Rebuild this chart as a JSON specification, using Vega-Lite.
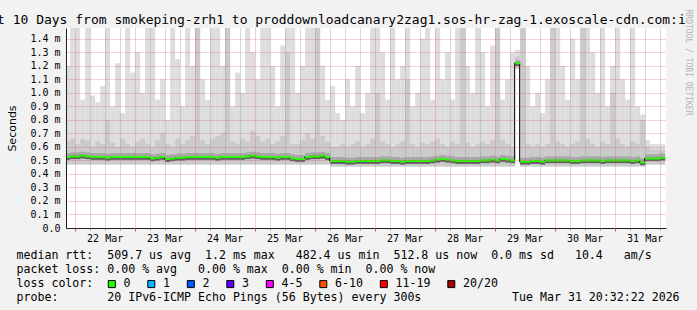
{
"$schema":"https://vega.github.io/schema/vega-lite/v6.json",
"width":600,"height":200,
"autosize":{"type":"none"},
"padding":{"left":66,"top":28,"right":31,"bottom":82},
"background":"#f2f2f2",
"config":{"view":{"fill":"#ffffff","stroke":null}},
"title":{"text":"t 10 Days from smokeping-zrh1 to proddownloadcanary2zag1.sos-hr-zag-1.exoscale-cdn.com:i","anchor":"start","frame":"group","dx":-69,"dy":33,"offset":5,"baseline":"alphabetic","font":"DejaVu Sans Mono","fontSize":13,"fontWeight":"normal","color":"#000000"},
"data":{"values":[
{"t":"2026-03-21T20:00Z","lo":0.47,"p1":0.505,"md":0.525,"p3":0.555,"q":0.64,"hi":1.2},
{"t":"2026-03-21T22:00Z","lo":0.47,"p1":0.51,"md":0.53,"p3":0.56,"q":0.66,"hi":1.49},
{"t":"2026-03-22T00:00Z","lo":0.47,"p1":0.51,"md":0.53,"p3":0.56,"q":0.62,"hi":1.49},
{"t":"2026-03-22T02:00Z","lo":0.47,"p1":0.515,"md":0.535,"p3":0.565,"q":0.66,"hi":0.95},
{"t":"2026-03-22T04:00Z","lo":0.47,"p1":0.51,"md":0.53,"p3":0.56,"q":0.65,"hi":1.49},
{"t":"2026-03-22T06:00Z","lo":0.47,"p1":0.505,"md":0.525,"p3":0.555,"q":0.6,"hi":0.98},
{"t":"2026-03-22T08:00Z","lo":0.47,"p1":0.505,"md":0.525,"p3":0.555,"q":0.64,"hi":0.93},
{"t":"2026-03-22T10:00Z","lo":0.47,"p1":0.505,"md":0.525,"p3":0.555,"q":0.62,"hi":1.05},
{"t":"2026-03-22T12:00Z","lo":0.47,"p1":0.5,"md":0.52,"p3":0.55,"q":0.8,"hi":1.49},
{"t":"2026-03-22T14:00Z","lo":0.47,"p1":0.505,"md":0.525,"p3":0.555,"q":0.63,"hi":0.9},
{"t":"2026-03-22T16:00Z","lo":0.47,"p1":0.505,"md":0.525,"p3":0.555,"q":0.6,"hi":1.22},
{"t":"2026-03-22T18:00Z","lo":0.47,"p1":0.505,"md":0.525,"p3":0.555,"q":0.66,"hi":0.85},
{"t":"2026-03-22T20:00Z","lo":0.47,"p1":0.505,"md":0.525,"p3":0.555,"q":0.62,"hi":1.49},
{"t":"2026-03-22T22:00Z","lo":0.47,"p1":0.505,"md":0.525,"p3":0.555,"q":0.6,"hi":1.15},
{"t":"2026-03-23T00:00Z","lo":0.47,"p1":0.505,"md":0.525,"p3":0.555,"q":0.64,"hi":1.3},
{"t":"2026-03-23T02:00Z","lo":0.47,"p1":0.505,"md":0.525,"p3":0.555,"q":0.66,"hi":1.0},
{"t":"2026-03-23T04:00Z","lo":0.47,"p1":0.505,"md":0.525,"p3":0.555,"q":0.62,"hi":1.49},
{"t":"2026-03-23T06:00Z","lo":0.47,"p1":0.495,"md":0.515,"p3":0.545,"q":0.6,"hi":1.49},
{"t":"2026-03-23T08:00Z","lo":0.47,"p1":0.5,"md":0.52,"p3":0.55,"q":0.65,"hi":0.95},
{"t":"2026-03-23T10:00Z","lo":0.47,"p1":0.505,"md":0.525,"p3":0.555,"q":0.7,"hi":1.1},
{"t":"2026-03-23T12:00Z","lo":0.47,"p1":0.49,"md":0.51,"p3":0.54,"q":0.62,"hi":0.8},
{"t":"2026-03-23T14:00Z","lo":0.47,"p1":0.495,"md":0.515,"p3":0.545,"q":0.6,"hi":1.49},
{"t":"2026-03-23T16:00Z","lo":0.47,"p1":0.5,"md":0.52,"p3":0.55,"q":0.66,"hi":1.25},
{"t":"2026-03-23T18:00Z","lo":0.47,"p1":0.5,"md":0.52,"p3":0.55,"q":0.62,"hi":0.9},
{"t":"2026-03-23T20:00Z","lo":0.47,"p1":0.505,"md":0.525,"p3":0.555,"q":0.65,"hi":1.49},
{"t":"2026-03-23T22:00Z","lo":0.47,"p1":0.505,"md":0.525,"p3":0.555,"q":0.68,"hi":1.2},
{"t":"2026-03-24T00:00Z","lo":0.47,"p1":0.505,"md":0.525,"p3":0.555,"q":1.49,"hi":1.49},
{"t":"2026-03-24T02:00Z","lo":0.47,"p1":0.505,"md":0.525,"p3":0.555,"q":0.65,"hi":1.1},
{"t":"2026-03-24T04:00Z","lo":0.47,"p1":0.505,"md":0.525,"p3":0.555,"q":0.62,"hi":0.95},
{"t":"2026-03-24T06:00Z","lo":0.47,"p1":0.505,"md":0.525,"p3":0.555,"q":0.66,"hi":1.49},
{"t":"2026-03-24T08:00Z","lo":0.47,"p1":0.5,"md":0.52,"p3":0.55,"q":0.68,"hi":1.49},
{"t":"2026-03-24T10:00Z","lo":0.47,"p1":0.505,"md":0.525,"p3":0.555,"q":0.7,"hi":1.2},
{"t":"2026-03-24T12:00Z","lo":0.47,"p1":0.505,"md":0.525,"p3":0.555,"q":1.49,"hi":1.49},
{"t":"2026-03-24T14:00Z","lo":0.47,"p1":0.505,"md":0.525,"p3":0.555,"q":0.64,"hi":0.9},
{"t":"2026-03-24T16:00Z","lo":0.47,"p1":0.505,"md":0.525,"p3":0.555,"q":0.62,"hi":1.15},
{"t":"2026-03-24T18:00Z","lo":0.47,"p1":0.505,"md":0.525,"p3":0.555,"q":0.66,"hi":1.0},
{"t":"2026-03-24T20:00Z","lo":0.47,"p1":0.51,"md":0.53,"p3":0.56,"q":0.64,"hi":1.49},
{"t":"2026-03-24T22:00Z","lo":0.47,"p1":0.515,"md":0.535,"p3":0.565,"q":0.72,"hi":1.3},
{"t":"2026-03-25T00:00Z","lo":0.47,"p1":0.51,"md":0.53,"p3":0.56,"q":0.68,"hi":1.1},
{"t":"2026-03-25T02:00Z","lo":0.47,"p1":0.505,"md":0.525,"p3":0.555,"q":0.64,"hi":1.49},
{"t":"2026-03-25T04:00Z","lo":0.47,"p1":0.505,"md":0.525,"p3":0.555,"q":0.66,"hi":1.49},
{"t":"2026-03-25T06:00Z","lo":0.47,"p1":0.505,"md":0.525,"p3":0.555,"q":0.62,"hi":1.2},
{"t":"2026-03-25T08:00Z","lo":0.47,"p1":0.5,"md":0.52,"p3":0.55,"q":0.64,"hi":0.9},
{"t":"2026-03-25T10:00Z","lo":0.47,"p1":0.505,"md":0.525,"p3":0.555,"q":0.68,"hi":1.35},
{"t":"2026-03-25T12:00Z","lo":0.47,"p1":0.505,"md":0.525,"p3":0.555,"q":1.3,"hi":1.49},
{"t":"2026-03-25T14:00Z","lo":0.47,"p1":0.495,"md":0.515,"p3":0.545,"q":0.62,"hi":1.49},
{"t":"2026-03-25T16:00Z","lo":0.47,"p1":0.49,"md":0.51,"p3":0.54,"q":0.62,"hi":1.0},
{"t":"2026-03-25T18:00Z","lo":0.47,"p1":0.49,"md":0.51,"p3":0.54,"q":0.65,"hi":1.2},
{"t":"2026-03-25T20:00Z","lo":0.47,"p1":0.505,"md":0.525,"p3":0.555,"q":0.7,"hi":1.49},
{"t":"2026-03-25T22:00Z","lo":0.47,"p1":0.51,"md":0.53,"p3":0.56,"q":0.66,"hi":1.49},
{"t":"2026-03-26T00:00Z","lo":0.47,"p1":0.51,"md":0.53,"p3":0.56,"q":1.49,"hi":1.49},
{"t":"2026-03-26T02:00Z","lo":0.47,"p1":0.515,"md":0.535,"p3":0.565,"q":0.68,"hi":1.2},
{"t":"2026-03-26T04:00Z","lo":0.47,"p1":0.505,"md":0.525,"p3":0.555,"q":0.64,"hi":0.95},
{"t":"2026-03-26T06:00Z","lo":0.455,"p1":0.475,"md":0.495,"p3":0.525,"q":0.6,"hi":1.05},
{"t":"2026-03-26T08:00Z","lo":0.455,"p1":0.475,"md":0.495,"p3":0.525,"q":0.6,"hi":0.85},
{"t":"2026-03-26T10:00Z","lo":0.455,"p1":0.475,"md":0.495,"p3":0.525,"q":0.62,"hi":0.8},
{"t":"2026-03-26T12:00Z","lo":0.455,"p1":0.47,"md":0.49,"p3":0.52,"q":0.6,"hi":1.1},
{"t":"2026-03-26T14:00Z","lo":0.455,"p1":0.47,"md":0.49,"p3":0.52,"q":0.62,"hi":0.9},
{"t":"2026-03-26T16:00Z","lo":0.455,"p1":0.475,"md":0.495,"p3":0.525,"q":0.64,"hi":1.2},
{"t":"2026-03-26T18:00Z","lo":0.455,"p1":0.475,"md":0.495,"p3":0.525,"q":0.6,"hi":0.85},
{"t":"2026-03-26T20:00Z","lo":0.455,"p1":0.475,"md":0.495,"p3":0.525,"q":0.62,"hi":1.0},
{"t":"2026-03-26T22:00Z","lo":0.455,"p1":0.475,"md":0.495,"p3":0.525,"q":0.66,"hi":1.49},
{"t":"2026-03-27T00:00Z","lo":0.455,"p1":0.475,"md":0.495,"p3":0.525,"q":1.0,"hi":1.49},
{"t":"2026-03-27T02:00Z","lo":0.455,"p1":0.48,"md":0.5,"p3":0.53,"q":0.64,"hi":1.3},
{"t":"2026-03-27T04:00Z","lo":0.455,"p1":0.48,"md":0.5,"p3":0.53,"q":0.62,"hi":0.95},
{"t":"2026-03-27T06:00Z","lo":0.455,"p1":0.475,"md":0.495,"p3":0.525,"q":0.6,"hi":1.49},
{"t":"2026-03-27T08:00Z","lo":0.455,"p1":0.475,"md":0.495,"p3":0.525,"q":0.62,"hi":1.1},
{"t":"2026-03-27T10:00Z","lo":0.455,"p1":0.47,"md":0.49,"p3":0.52,"q":0.64,"hi":1.2},
{"t":"2026-03-27T12:00Z","lo":0.455,"p1":0.475,"md":0.495,"p3":0.525,"q":1.1,"hi":1.49},
{"t":"2026-03-27T14:00Z","lo":0.455,"p1":0.475,"md":0.495,"p3":0.525,"q":0.62,"hi":0.9},
{"t":"2026-03-27T16:00Z","lo":0.455,"p1":0.475,"md":0.495,"p3":0.525,"q":0.6,"hi":1.0},
{"t":"2026-03-27T18:00Z","lo":0.455,"p1":0.475,"md":0.495,"p3":0.525,"q":0.63,"hi":1.4},
{"t":"2026-03-27T20:00Z","lo":0.455,"p1":0.475,"md":0.495,"p3":0.525,"q":0.62,"hi":1.49},
{"t":"2026-03-27T22:00Z","lo":0.455,"p1":0.48,"md":0.5,"p3":0.53,"q":0.64,"hi":0.95},
{"t":"2026-03-28T00:00Z","lo":0.455,"p1":0.485,"md":0.505,"p3":0.535,"q":0.66,"hi":1.49},
{"t":"2026-03-28T02:00Z","lo":0.455,"p1":0.49,"md":0.51,"p3":0.54,"q":0.62,"hi":1.1},
{"t":"2026-03-28T04:00Z","lo":0.455,"p1":0.485,"md":0.505,"p3":0.535,"q":0.6,"hi":1.3},
{"t":"2026-03-28T06:00Z","lo":0.455,"p1":0.48,"md":0.5,"p3":0.53,"q":0.64,"hi":0.95},
{"t":"2026-03-28T08:00Z","lo":0.455,"p1":0.475,"md":0.495,"p3":0.525,"q":0.62,"hi":1.49},
{"t":"2026-03-28T10:00Z","lo":0.455,"p1":0.475,"md":0.495,"p3":0.525,"q":1.49,"hi":1.49},
{"t":"2026-03-28T12:00Z","lo":0.455,"p1":0.475,"md":0.495,"p3":0.525,"q":0.63,"hi":1.2},
{"t":"2026-03-28T14:00Z","lo":0.455,"p1":0.475,"md":0.495,"p3":0.525,"q":0.6,"hi":1.0},
{"t":"2026-03-28T16:00Z","lo":0.455,"p1":0.475,"md":0.495,"p3":0.525,"q":0.62,"hi":1.49},
{"t":"2026-03-28T18:00Z","lo":0.455,"p1":0.48,"md":0.5,"p3":0.53,"q":0.64,"hi":1.3},
{"t":"2026-03-28T20:00Z","lo":0.455,"p1":0.48,"md":0.5,"p3":0.53,"q":0.62,"hi":0.9},
{"t":"2026-03-28T22:00Z","lo":0.455,"p1":0.485,"md":0.505,"p3":0.535,"q":0.65,"hi":1.35},
{"t":"2026-03-29T00:00Z","lo":0.455,"p1":0.48,"md":0.5,"p3":0.53,"q":1.49,"hi":1.49},
{"t":"2026-03-29T02:00Z","lo":0.455,"p1":0.49,"md":0.51,"p3":0.54,"q":0.65,"hi":0.95},
{"t":"2026-03-29T04:00Z","lo":0.455,"p1":0.485,"md":0.505,"p3":0.535,"q":0.62,"hi":1.1},
{"t":"2026-03-29T06:00Z","lo":0.455,"p1":0.48,"md":0.5,"p3":0.53,"q":0.6,"hi":1.3},
{"t":"2026-03-29T08:00Z","lo":1.18,"p1":1.2,"md":1.22,"p3":1.24,"q":1.27,"hi":1.32},
{"t":"2026-03-29T10:00Z","lo":0.455,"p1":0.47,"md":0.49,"p3":0.52,"q":1.49,"hi":1.49},
{"t":"2026-03-29T12:00Z","lo":0.455,"p1":0.47,"md":0.49,"p3":0.52,"q":0.62,"hi":1.2},
{"t":"2026-03-29T14:00Z","lo":0.455,"p1":0.475,"md":0.495,"p3":0.525,"q":0.6,"hi":0.9},
{"t":"2026-03-29T16:00Z","lo":0.455,"p1":0.475,"md":0.495,"p3":0.525,"q":0.62,"hi":1.0},
{"t":"2026-03-29T18:00Z","lo":0.455,"p1":0.47,"md":0.49,"p3":0.52,"q":0.6,"hi":0.85},
{"t":"2026-03-29T20:00Z","lo":0.455,"p1":0.48,"md":0.5,"p3":0.53,"q":0.62,"hi":1.1},
{"t":"2026-03-29T22:00Z","lo":0.455,"p1":0.48,"md":0.5,"p3":0.53,"q":1.49,"hi":1.49},
{"t":"2026-03-30T00:00Z","lo":0.455,"p1":0.48,"md":0.5,"p3":0.53,"q":0.64,"hi":1.49},
{"t":"2026-03-30T02:00Z","lo":0.455,"p1":0.48,"md":0.5,"p3":0.53,"q":0.62,"hi":1.2},
{"t":"2026-03-30T04:00Z","lo":0.455,"p1":0.48,"md":0.5,"p3":0.53,"q":0.6,"hi":0.95},
{"t":"2026-03-30T06:00Z","lo":0.455,"p1":0.475,"md":0.495,"p3":0.525,"q":0.62,"hi":1.4},
{"t":"2026-03-30T08:00Z","lo":0.455,"p1":0.475,"md":0.495,"p3":0.525,"q":0.64,"hi":1.1},
{"t":"2026-03-30T10:00Z","lo":0.455,"p1":0.48,"md":0.5,"p3":0.53,"q":1.49,"hi":1.49},
{"t":"2026-03-30T12:00Z","lo":0.455,"p1":0.48,"md":0.5,"p3":0.53,"q":0.66,"hi":1.49},
{"t":"2026-03-30T14:00Z","lo":0.455,"p1":0.48,"md":0.5,"p3":0.53,"q":0.62,"hi":1.3},
{"t":"2026-03-30T16:00Z","lo":0.455,"p1":0.48,"md":0.5,"p3":0.53,"q":0.6,"hi":1.0},
{"t":"2026-03-30T18:00Z","lo":0.455,"p1":0.475,"md":0.495,"p3":0.525,"q":0.64,"hi":1.49},
{"t":"2026-03-30T20:00Z","lo":0.455,"p1":0.48,"md":0.5,"p3":0.53,"q":0.62,"hi":0.9},
{"t":"2026-03-30T22:00Z","lo":0.455,"p1":0.48,"md":0.5,"p3":0.53,"q":1.0,"hi":1.2},
{"t":"2026-03-31T00:00Z","lo":0.455,"p1":0.48,"md":0.5,"p3":0.53,"q":0.66,"hi":1.49},
{"t":"2026-03-31T02:00Z","lo":0.455,"p1":0.48,"md":0.5,"p3":0.53,"q":0.62,"hi":1.1},
{"t":"2026-03-31T04:00Z","lo":0.455,"p1":0.48,"md":0.5,"p3":0.53,"q":0.6,"hi":0.95},
{"t":"2026-03-31T06:00Z","lo":0.455,"p1":0.475,"md":0.495,"p3":0.525,"q":0.64,"hi":1.49},
{"t":"2026-03-31T08:00Z","lo":0.455,"p1":0.48,"md":0.5,"p3":0.53,"q":0.62,"hi":0.9},
{"t":"2026-03-31T10:00Z","lo":0.455,"p1":0.465,"md":0.485,"p3":0.515,"q":0.8,"hi":0.84},
{"t":"2026-03-31T12:00Z","lo":0.47,"p1":0.495,"md":0.515,"p3":0.545,"q":0.6,"hi":0.65},
{"t":"2026-03-31T14:00Z","lo":0.47,"p1":0.495,"md":0.515,"p3":0.545,"q":0.58,"hi":0.62},
{"t":"2026-03-31T16:00Z","lo":0.47,"p1":0.495,"md":0.515,"p3":0.545,"q":0.58,"hi":0.62},
{"t":"2026-03-31T18:00Z","lo":0.47,"p1":0.5,"md":0.52,"p3":0.55,"q":0.58,"hi":0.62}
]},
"resolve":{"axis":{"x":"independent","y":"independent"}},
"layer":[
{"mark":{"type":"bar","color":"#dddddd","clip":true,"binSpacing":0},
 "encoding":{
  "x":{"field":"t","type":"temporal","timeUnit":{"unit":"utcyearmonthdatehours","step":2},
   "scale":{"type":"utc","domain":[{"year":2026,"month":"mar","date":21,"hours":20,"minutes":32,"seconds":22,"utc":true},{"year":2026,"month":"mar","date":31,"hours":20,"minutes":32,"seconds":22,"utc":true}]},
   "axis":{"orient":"bottom",
    "values":[{"year":2026,"month":"mar","date":22,"hours":12,"utc":true},{"year":2026,"month":"mar","date":23,"hours":12,"utc":true},{"year":2026,"month":"mar","date":24,"hours":12,"utc":true},{"year":2026,"month":"mar","date":25,"hours":12,"utc":true},{"year":2026,"month":"mar","date":26,"hours":12,"utc":true},{"year":2026,"month":"mar","date":27,"hours":12,"utc":true},{"year":2026,"month":"mar","date":28,"hours":12,"utc":true},{"year":2026,"month":"mar","date":29,"hours":12,"utc":true},{"year":2026,"month":"mar","date":30,"hours":12,"utc":true},{"year":2026,"month":"mar","date":31,"hours":12,"utc":true}],
    "labelExpr":"utcFormat(datum.value, '%d %b')",
    "labelFont":"DejaVu Sans Mono","labelFontSize":10,"labelColor":"#000000","labelPadding":5,"labelFlush":false,"labelOverlap":false,"labelBound":false,
    "ticks":false,"grid":false,"domain":true,"domainColor":"#212121","domainWidth":1,"zindex":1,
    "title":["median rtt:\u00a0\u00a0509.7 us avg\u00a0\u00a01.2 ms max\u00a0\u00a0\u00a0482.4 us min\u00a0\u00a0512.8 us now\u00a0\u00a00.0 ms sd\u00a0\u00a0\u00a010.4\u00a0\u00a0\u00a0am/s","packet loss: 0.00 % avg\u00a0\u00a0\u00a00.00 % max\u00a0\u00a00.00 % min\u00a0\u00a00.00 % now","loss color:","probe:\u00a0\u00a0\u00a0\u00a0\u00a0\u00a0\u00a020 IPv6-ICMP Echo Pings (56 Bytes) every 300s\u00a0\u00a0\u00a0\u00a0\u00a0\u00a0\u00a0\u00a0\u00a0\u00a0\u00a0\u00a0\u00a0Tue Mar 31 20:32:22 2026"],
    "titleX":-50,"titleY":30,"titleAlign":"left","titleAnchor":"start","titleBaseline":"alphabetic","titleFont":"DejaVu Sans Mono","titleFontSize":11.6,"titleFontWeight":"normal","titleColor":"#000000","titleLineHeight":14,"titleLimit":2000}},
  "y":{"field":"lo","type":"quantitative","scale":{"domain":[0,1.48],"nice":false,"zero":false},
   "axis":{"orient":"left","values":[0,0.1,0.2,0.3,0.4,0.5,0.6,0.7,0.8,0.9,1.0,1.1,1.2,1.3,1.4],
    "labelExpr":"datum.value == 0 ? '0.0' : format(datum.value, '.1f') + ' m'",
    "labelFont":"DejaVu Sans Mono","labelFontSize":10,"labelColor":"#000000","labelPadding":6,
    "ticks":false,"grid":true,"gridColor":"#de4f4f","gridOpacity":0.5,"gridDash":[1,1],"domain":true,"domainColor":"#212121","zindex":1,
    "title":"Seconds","titleFont":"DejaVu Sans","titleFontSize":11,"titleFontWeight":"normal","titleColor":"#000000","titleAngle":270,"titleX":-54,"titleY":100,"titleAlign":"center","titleBaseline":"middle"}},
  "y2":{"field":"hi"}}},
{"mark":{"type":"bar","color":"#cacaca","clip":true,"binSpacing":0},
 "encoding":{
  "x":{"field":"t","type":"temporal","timeUnit":{"unit":"utcyearmonthdatehours","step":2},
   "scale":{"type":"utc","domain":[{"year":2026,"month":"mar","date":21,"hours":20,"minutes":32,"seconds":22,"utc":true},{"year":2026,"month":"mar","date":31,"hours":20,"minutes":32,"seconds":22,"utc":true}]},
   "axis":{"orient":"bottom",
    "values":[{"year":2026,"month":"mar","date":22,"utc":true},{"year":2026,"month":"mar","date":23,"utc":true},{"year":2026,"month":"mar","date":24,"utc":true},{"year":2026,"month":"mar","date":25,"utc":true},{"year":2026,"month":"mar","date":26,"utc":true},{"year":2026,"month":"mar","date":27,"utc":true},{"year":2026,"month":"mar","date":28,"utc":true},{"year":2026,"month":"mar","date":29,"utc":true},{"year":2026,"month":"mar","date":30,"utc":true},{"year":2026,"month":"mar","date":31,"utc":true}],
    "labels":false,"domain":false,"ticks":true,"tickColor":"#de4f4f","tickSize":3,"grid":true,"gridColor":"#de4f4f","gridOpacity":0.55,"gridDash":[1,1],"zindex":1,"title":null}},
  "y":{"field":"lo","type":"quantitative","scale":{"domain":[0,1.48],"nice":false,"zero":false},"axis":null},
  "y2":{"field":"q"}}},
{"mark":{"type":"bar","color":"#a6a6a6","clip":true,"binSpacing":0},
 "encoding":{
  "x":{"field":"t","type":"temporal","timeUnit":{"unit":"utcyearmonthdatehours","step":2},
   "scale":{"type":"utc","domain":[{"year":2026,"month":"mar","date":21,"hours":20,"minutes":32,"seconds":22,"utc":true},{"year":2026,"month":"mar","date":31,"hours":20,"minutes":32,"seconds":22,"utc":true}]},
   "axis":{"orient":"bottom",
    "values":[{"year":2026,"month":"mar","date":22,"hours":6,"utc":true},{"year":2026,"month":"mar","date":22,"hours":12,"utc":true},{"year":2026,"month":"mar","date":22,"hours":18,"utc":true},
{"year":2026,"month":"mar","date":23,"hours":6,"utc":true},{"year":2026,"month":"mar","date":23,"hours":12,"utc":true},{"year":2026,"month":"mar","date":23,"hours":18,"utc":true},
{"year":2026,"month":"mar","date":24,"hours":6,"utc":true},{"year":2026,"month":"mar","date":24,"hours":12,"utc":true},{"year":2026,"month":"mar","date":24,"hours":18,"utc":true},
{"year":2026,"month":"mar","date":25,"hours":6,"utc":true},{"year":2026,"month":"mar","date":25,"hours":12,"utc":true},{"year":2026,"month":"mar","date":25,"hours":18,"utc":true},
{"year":2026,"month":"mar","date":26,"hours":6,"utc":true},{"year":2026,"month":"mar","date":26,"hours":12,"utc":true},{"year":2026,"month":"mar","date":26,"hours":18,"utc":true},
{"year":2026,"month":"mar","date":27,"hours":6,"utc":true},{"year":2026,"month":"mar","date":27,"hours":12,"utc":true},{"year":2026,"month":"mar","date":27,"hours":18,"utc":true},
{"year":2026,"month":"mar","date":28,"hours":6,"utc":true},{"year":2026,"month":"mar","date":28,"hours":12,"utc":true},{"year":2026,"month":"mar","date":28,"hours":18,"utc":true},
{"year":2026,"month":"mar","date":29,"hours":6,"utc":true},{"year":2026,"month":"mar","date":29,"hours":12,"utc":true},{"year":2026,"month":"mar","date":29,"hours":18,"utc":true},
{"year":2026,"month":"mar","date":30,"hours":6,"utc":true},{"year":2026,"month":"mar","date":30,"hours":12,"utc":true},{"year":2026,"month":"mar","date":30,"hours":18,"utc":true},
{"year":2026,"month":"mar","date":31,"hours":6,"utc":true},{"year":2026,"month":"mar","date":31,"hours":12,"utc":true},{"year":2026,"month":"mar","date":31,"hours":18,"utc":true}],
    "labels":false,"domain":false,"ticks":true,"tickColor":"#8f8f8f","tickSize":2,"grid":true,"gridColor":"#8f8f8f","gridOpacity":0.7,"gridDash":[1,1],"zindex":1,"title":null}},
  "y":{"field":"p1","type":"quantitative","scale":{"domain":[0,1.48],"nice":false,"zero":false},"axis":null},
  "y2":{"field":"p3"}}},
{"mark":{"type":"bar","color":"#5c5c5c","clip":true,"binSpacing":0},
 "encoding":{
  "x":{"field":"t","type":"temporal","timeUnit":{"unit":"utcyearmonthdatehours","step":2},
   "scale":{"type":"utc","domain":[{"year":2026,"month":"mar","date":21,"hours":20,"minutes":32,"seconds":22,"utc":true},{"year":2026,"month":"mar","date":31,"hours":20,"minutes":32,"seconds":22,"utc":true}]},
   "axis":null},
  "y":{"field":"p1","type":"quantitative","scale":{"domain":[0,1.48],"nice":false,"zero":false},
   "axis":{"orient":"right","labels":false,"ticks":false,"domain":false,"grid":false,"title":"RRDTOOL / TOBI OETIKER","titleAngle":90,"titleX":21.5,"titleY":34,"titleAlign":"center","titleBaseline":"middle","titleFont":"DejaVu Sans Mono","titleFontSize":8,"titleFontWeight":"normal","titleColor":"#b4b4b4"}},
  "y2":{"field":"md"}}},
{"mark":{"type":"line","color":"#000000","strokeWidth":1,"interpolate":"step-after","clip":true},
 "encoding":{
  "x":{"field":"t","type":"temporal",
   "scale":{"type":"utc","domain":[{"year":2026,"month":"mar","date":21,"hours":20,"minutes":32,"seconds":22,"utc":true},{"year":2026,"month":"mar","date":31,"hours":20,"minutes":32,"seconds":22,"utc":true}]},
   "axis":null},
  "y":{"field":"md","type":"quantitative","scale":{"domain":[0,1.48],"nice":false,"zero":false},"axis":null}}},
{"mark":{"type":"bar","filled":false,"color":"#26ff00","strokeWidth":2,"clip":true,"binSpacing":0},
 "encoding":{
  "x":{"field":"t","type":"temporal","timeUnit":{"unit":"utcyearmonthdatehours","step":2},
   "scale":{"type":"utc","domain":[{"year":2026,"month":"mar","date":21,"hours":20,"minutes":32,"seconds":22,"utc":true},{"year":2026,"month":"mar","date":31,"hours":20,"minutes":32,"seconds":22,"utc":true}]},
   "axis":null},
  "y":{"field":"md","type":"quantitative","scale":{"domain":[0,1.48],"nice":false,"zero":false},"axis":null},
  "y2":{"field":"md"}}},
{"mark":{"type":"bar","clip":true,"binSpacing":0},
 "encoding":{
  "x":{"field":"t","type":"temporal","timeUnit":{"unit":"utcyearmonthdatehours","step":2},
   "scale":{"type":"utc","domain":[{"year":2026,"month":"mar","date":21,"hours":20,"minutes":32,"seconds":22,"utc":true},{"year":2026,"month":"mar","date":31,"hours":20,"minutes":32,"seconds":22,"utc":true}]},
   "axis":null},
  "y":{"field":"md","type":"quantitative","scale":{"domain":[0,1.48],"nice":false,"zero":false},"axis":null},
  "y2":{"field":"md"},
  "color":{"datum":"0","type":"nominal",
   "scale":{"domain":["0","1","2","3","4-5","6-10","11-19","20/20"],"range":["#26ff00","#00b8ff","#0059ff","#5e00ff","#ff00ff","#ff5500","#ff0000","#a10000"]},
   "legend":{"orient":"none","legendX":40,"legendY":250,"direction":"horizontal","title":null,
    "labelFont":"DejaVu Sans Mono","labelFontSize":11.6,"labelColor":"#000000","labelOffset":6,"labelLimit":200,
    "symbolType":"square","symbolSize":49,"symbolStrokeColor":"#000000","symbolStrokeWidth":1,"symbolOpacity":1,
    "columnPadding":14.5,"padding":0}}}}
]
}
